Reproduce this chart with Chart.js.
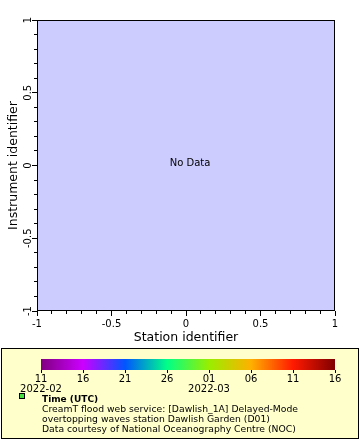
<!DOCTYPE html>
<html>
<head>
<meta charset="utf-8">
<script src="https://cdn.jsdelivr.net/npm/chart.js@4.4.0/dist/chart.umd.min.js"></script>
<style>
html, body { margin: 0; padding: 0; background: #fff; width: 360px; height: 440px; overflow: hidden; font-family: "DejaVu Sans", sans-serif; }
#plot { position: absolute; left: 0; top: 0; }
#legend { position: absolute; left: 1px; top: 348px; width: 356px; height: 89px; border: 1px solid #000; background: #ffffcc; }
#bar { position: absolute; left: 0; top: 350px; }
#swatch { position: absolute; left: 19px; top: 393px; width: 4px; height: 4px; border: 1px solid #000; background: #44dd44; }
#legendText { position: absolute; left: 42px; top: 394px; font-size: 9.25px; line-height: 10px; color: #000; white-space: nowrap; }
#legendText b { font-size: 9px; }
</style>
</head>
<body>
<canvas id="plot" width="360" height="346"></canvas>
<div id="legend"></div>
<canvas id="bar" width="360" height="50"></canvas>
<div id="swatch"></div>
<div id="legendText"></div>
<script>
// axes
const axisMin = -1
const axisMax = 1
const majorStep = 0.5
const minorStep = 0.1
const xTitle = 'Station identifier'
const yTitle = 'Instrument identifier'
const noDataText = 'No Data'

// no data in this series
const points = []

// colour bar (time)
const barLabels = [['11', '2022-02'], '16', '21', '26', ['01', '2022-03'], '06', '11', '16']
const barColors = ['#800080', '#cc00ff', '#0055ff', '#00ff88', '#99ee00', '#ffb000', '#ff1a00', '#800000']

const legendLines = [
    'CreamT flood web service: [Dawlish_1A] Delayed-Mode',
    'overtopping waves station Dawlish Garden (D01)',
    'Data courtesy of National Oceanography Centre (NOC)'
]
const legendTitle = 'Time (UTC)'

Chart.defaults.font.family = '"DejaVu Sans", sans-serif'
Chart.defaults.color = '#000'

const fmt = v => String(+v.toFixed(2))

const plotFrame = {
    id: 'plotFrame',
    beforeDraw(chart) {
        const { ctx, chartArea: a } = chart
        ctx.save()
        ctx.fillStyle = '#ccccff'
        ctx.fillRect(a.left, a.top, a.right - a.left, a.bottom - a.top)
        ctx.restore()
    },
    afterDraw(chart) {
        const { ctx, chartArea: a } = chart
        ctx.save()
        ctx.strokeStyle = '#000'
        ctx.lineWidth = 1
        ctx.strokeRect(a.left + 0.5, a.top + 0.5, a.right - a.left - 1, a.bottom - a.top - 1)
        if (!points.length) {
            ctx.fillStyle = '#000'
            ctx.font = '10px "DejaVu Sans"'
            ctx.textAlign = 'center'
            ctx.textBaseline = 'alphabetic'
            ctx.fillText(noDataText, chart.scales.x.getPixelForValue(0) + 4, chart.scales.y.getPixelForValue(0))
        }
        ctx.restore()
    }
}

function minorAxis(pos) {
    return {
        type: 'linear',
        position: pos,
        min: axisMin,
        max: axisMax,
        weight: 0,
        border: { display: false },
        grid: { drawOnChartArea: false, tickLength: 3, tickColor: '#000' },
        ticks: { display: false, stepSize: minorStep },
        afterFit: s => { if (pos === 'bottom') s.height = 0; else s.width = 0 }
    }
}

new Chart(document.getElementById('plot'), {
    type: 'scatter',
    data: { datasets: [{ data: points, xAxisID: 'x', yAxisID: 'y' }] },
    plugins: [plotFrame],
    options: {
        responsive: false,
        animation: false,
        devicePixelRatio: 1,
        layout: { padding: { left: 0, top: 20, right: 25, bottom: 0 } },
        plugins: { legend: { display: false }, tooltip: { enabled: false } },
        scales: {
            x: minorAxis('bottom'),
            y: minorAxis('left'),
            xMajor: {
                type: 'linear',
                position: 'bottom',
                min: axisMin,
                max: axisMax,
                weight: 1,
                border: { display: false },
                grid: { drawOnChartArea: false, tickLength: 5, tickColor: '#000' },
                ticks: { stepSize: majorStep, font: { size: 10 }, padding: 2, maxRotation: 0, callback: fmt },
                title: { display: true, text: xTitle, font: { size: 12.5 }, padding: { top: 0, bottom: 0.3 } },
                afterFit: s => { s.height = 35 }
            },
            yMajor: {
                type: 'linear',
                position: 'left',
                min: axisMin,
                max: axisMax,
                weight: 1,
                border: { display: false },
                grid: { drawOnChartArea: false, tickLength: 5, tickColor: '#000' },
                ticks: { stepSize: majorStep, font: { size: 10 }, minRotation: 90, maxRotation: 90, crossAlign: 'center', padding: -5.75, callback: fmt },
                title: { display: true, text: yTitle, font: { size: 12.5 }, padding: { top: 6.3, bottom: 0 } },
                afterFit: s => { s.width = 37 }
            }
        }
    }
})

const barFill = {
    id: 'barFill',
    beforeDraw(chart) {
        const { ctx, chartArea: a } = chart
        const g = ctx.createLinearGradient(a.left, 0, a.right, 0)
        barColors.forEach((c, i) => g.addColorStop(i / (barColors.length - 1), c))
        ctx.save()
        ctx.fillStyle = g
        ctx.fillRect(a.left, a.top, a.right - a.left, a.bottom - a.top)
        ctx.restore()
    }
}

new Chart(document.getElementById('bar'), {
    type: 'line',
    data: { labels: barLabels, datasets: [{ data: [] }] },
    plugins: [barFill],
    options: {
        responsive: false,
        animation: false,
        devicePixelRatio: 1,
        layout: { padding: { left: 41, top: 9, right: 25, bottom: 0 } },
        plugins: { legend: { display: false }, tooltip: { enabled: false } },
        scales: {
            x: {
                offset: false,
                border: { display: false },
                grid: { drawOnChartArea: false, tickLength: 3, tickColor: '#000' },
                ticks: { font: { size: 10, lineHeight: 1 }, padding: 1, maxRotation: 0, autoSkip: false },
                afterFit: s => { s.height = 30 }
            },
            y: { display: false }
        }
    }
})

const lt = document.getElementById('legendText')
const b = document.createElement('b')
b.textContent = legendTitle
lt.appendChild(b)
legendLines.forEach(t => {
    lt.appendChild(document.createElement('br'))
    lt.appendChild(document.createTextNode(t))
})
</script>
</body>
</html>
